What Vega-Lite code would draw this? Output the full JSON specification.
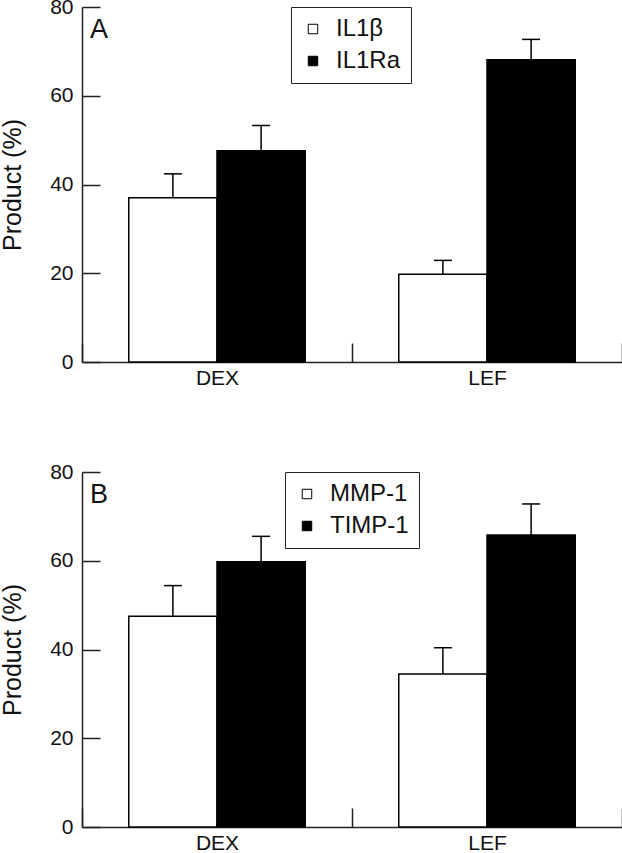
{
  "$schema": "https://vega.github.io/schema/vega-lite/v6.json",
  "background": "white",
  "padding": {"left": 0, "top": -4, "right": 0, "bottom": 0},
  "spacing": 73,
  "data": {"values": [
    {"panel": "A", "drug": "DEX", "product": "IL1β", "value": 37.0, "upper": 42.4},
    {"panel": "A", "drug": "DEX", "product": "IL1Ra", "value": 47.6, "upper": 53.3},
    {"panel": "A", "drug": "LEF", "product": "IL1β", "value": 19.8, "upper": 22.9},
    {"panel": "A", "drug": "LEF", "product": "IL1Ra", "value": 68.1, "upper": 72.7},
    {"panel": "B", "drug": "DEX", "product": "MMP-1", "value": 47.5, "upper": 54.4},
    {"panel": "B", "drug": "DEX", "product": "TIMP-1", "value": 59.8, "upper": 65.5},
    {"panel": "B", "drug": "LEF", "product": "MMP-1", "value": 34.5, "upper": 40.4},
    {"panel": "B", "drug": "LEF", "product": "TIMP-1", "value": 65.8, "upper": 72.8}
  ]},
  "config": {
    "font": "Liberation Sans",
    "view": {"stroke": null},
    "axis": {
      "domainColor": "#222", "tickColor": "#222", "labelColor": "#111", "titleColor": "#111",
      "domainWidth": 1.5, "tickWidth": 1.5, "grid": false,
      "labelFontSize": 21, "titleFontSize": 25, "titleFontWeight": "normal"
    },
    "legend": {
      "orient": "none", "title": null, "symbolType": "square", "strokeColor": "#222",
      "padding": 10, "labelFontSize": 24, "labelColor": "#111", "rowPadding": 8, "labelOffset": 11,
      "symbolSize": 90, "symbolStrokeColor": "black", "symbolStrokeWidth": 1
    }
  },
  "resolve": {"scale": {"fill": "independent", "xOffset": "independent"}, "legend": {"fill": "independent"}},
  "vconcat": [
    {
      "width": 540, "height": 355,
      "transform": [{"filter": "datum.panel === 'A'"}],
      "layer": [
        {
          "mark": {"type": "bar", "stroke": "black", "strokeWidth": 1.5},
          "encoding": {
            "x": {"field": "drug", "type": "nominal", "title": null, "scale": {"paddingInner": 0, "paddingOuter": 0},
                  "axis": {"labelAngle": 0, "tickBand": "extent", "tickSize": -19, "labelPadding": 24}},
            "xOffset": {"field": "product", "type": "nominal", "sort": ["IL1β", "IL1Ra"], "scale": {"paddingInner": 0, "paddingOuter": 0.53}},
            "y": {"field": "value", "type": "quantitative", "scale": {"domain": [0, 80]},
                  "axis": {"values": [0, 20, 40, 60, 80], "tickSize": -18, "labelPadding": 27, "title": "Product (%)", "titlePadding": 24}},
            "fill": {"field": "product", "type": "nominal", "scale": {"domain": ["IL1β", "IL1Ra"], "range": ["white", "black"]},
                     "legend": {"legendX": 209, "legendY": 0}}
          }
        },
        {
          "mark": {"type": "rule", "stroke": "black", "strokeWidth": 1.5},
          "encoding": {
            "x": {"field": "drug", "type": "nominal"},
            "xOffset": {"field": "product", "type": "nominal", "sort": ["IL1β", "IL1Ra"]},
            "y": {"field": "value", "type": "quantitative"},
            "y2": {"field": "upper"}
          }
        },
        {
          "mark": {"type": "tick", "color": "black", "thickness": 1.5, "size": 18, "opacity": 1},
          "encoding": {
            "x": {"field": "drug", "type": "nominal"},
            "xOffset": {"field": "product", "type": "nominal", "sort": ["IL1β", "IL1Ra"]},
            "y": {"field": "upper", "type": "quantitative"}
          }
        },
        {
          "transform": [{"filter": "datum.drug === 'DEX' && datum.product === 'IL1β'"}],
          "mark": {"type": "text", "align": "left", "baseline": "top", "fontSize": 27, "dx": 8, "dy": 10, "color": "#111"},
          "encoding": {
            "x": {"field": "drug", "type": "nominal", "bandPosition": 0},
            "y": {"datum": 80},
            "text": {"field": "panel"}
          }
        }
      ]
    },
    {
      "width": 540, "height": 355,
      "transform": [{"filter": "datum.panel === 'B'"}],
      "layer": [
        {
          "mark": {"type": "bar", "stroke": "black", "strokeWidth": 1.5},
          "encoding": {
            "x": {"field": "drug", "type": "nominal", "title": null, "scale": {"paddingInner": 0, "paddingOuter": 0},
                  "axis": {"labelAngle": 0, "tickBand": "extent", "tickSize": -19, "labelPadding": 24}},
            "xOffset": {"field": "product", "type": "nominal", "sort": ["MMP-1", "TIMP-1"], "scale": {"paddingInner": 0, "paddingOuter": 0.53}},
            "y": {"field": "value", "type": "quantitative", "scale": {"domain": [0, 80]},
                  "axis": {"values": [0, 20, 40, 60, 80], "tickSize": -18, "labelPadding": 27, "title": "Product (%)", "titlePadding": 24}},
            "fill": {"field": "product", "type": "nominal", "scale": {"domain": ["MMP-1", "TIMP-1"], "range": ["white", "black"]},
                     "legend": {"legendX": 203, "legendY": 0}}
          }
        },
        {
          "mark": {"type": "rule", "stroke": "black", "strokeWidth": 1.5},
          "encoding": {
            "x": {"field": "drug", "type": "nominal"},
            "xOffset": {"field": "product", "type": "nominal", "sort": ["MMP-1", "TIMP-1"]},
            "y": {"field": "value", "type": "quantitative"},
            "y2": {"field": "upper"}
          }
        },
        {
          "mark": {"type": "tick", "color": "black", "thickness": 1.5, "size": 18, "opacity": 1},
          "encoding": {
            "x": {"field": "drug", "type": "nominal"},
            "xOffset": {"field": "product", "type": "nominal", "sort": ["MMP-1", "TIMP-1"]},
            "y": {"field": "upper", "type": "quantitative"}
          }
        },
        {
          "transform": [{"filter": "datum.drug === 'DEX' && datum.product === 'MMP-1'"}],
          "mark": {"type": "text", "align": "left", "baseline": "top", "fontSize": 27, "dx": 8, "dy": 10, "color": "#111"},
          "encoding": {
            "x": {"field": "drug", "type": "nominal", "bandPosition": 0},
            "y": {"datum": 80},
            "text": {"field": "panel"}
          }
        }
      ]
    }
  ]
}
